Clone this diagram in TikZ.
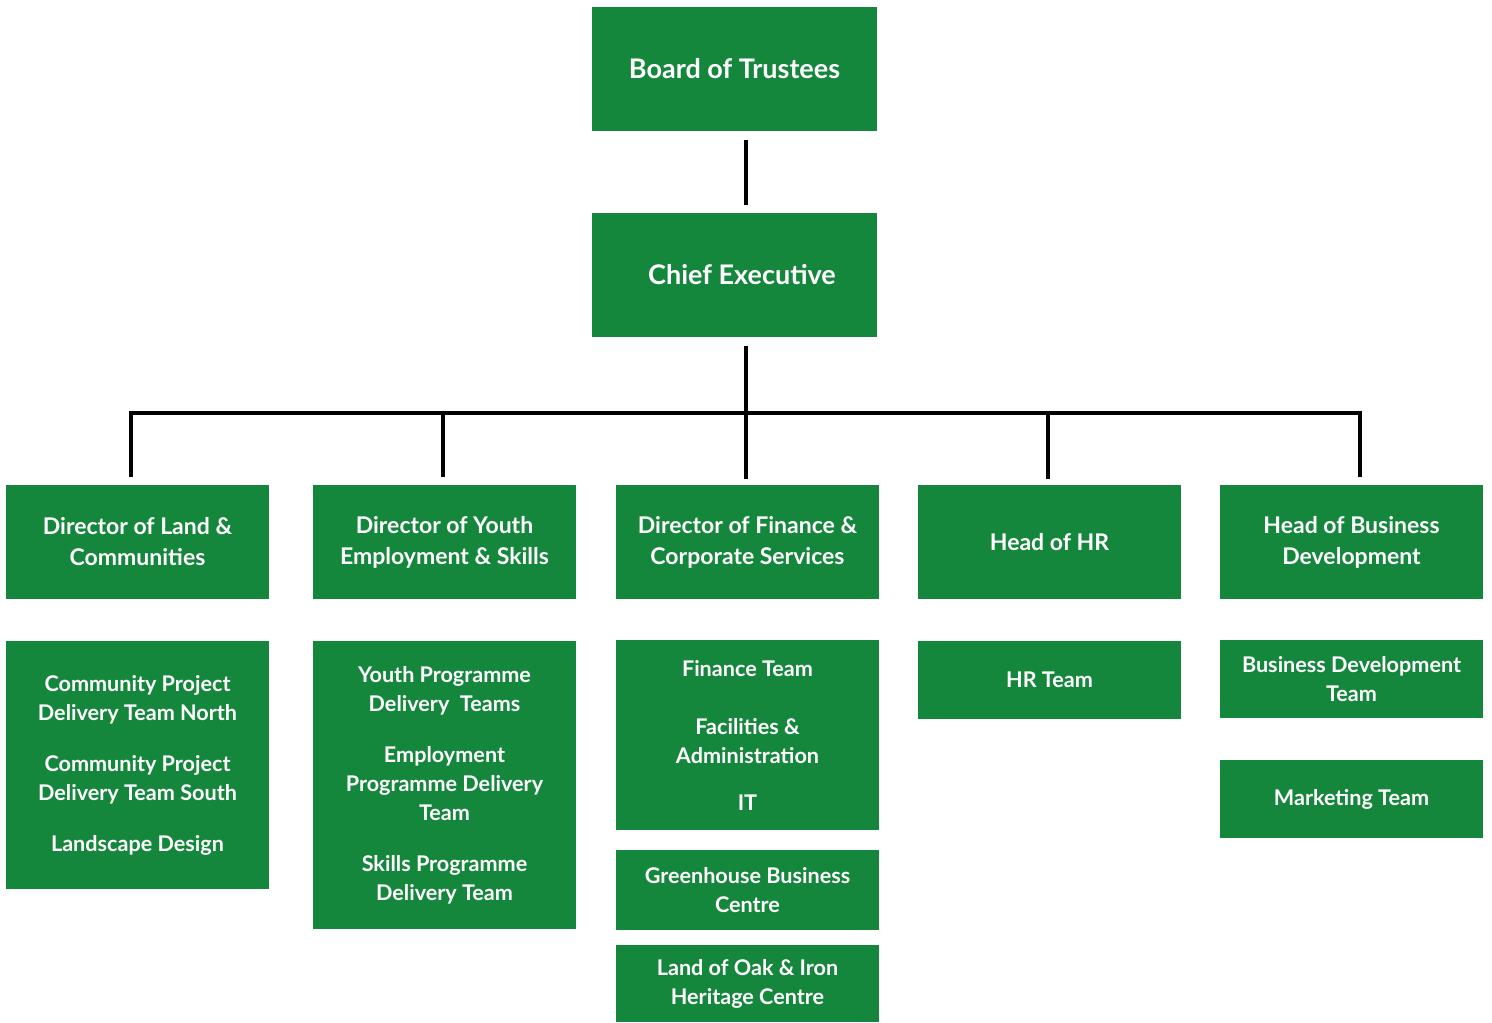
\documentclass[tikz,border=0pt]{standalone}
\usepackage{fontspec}
\setmainfont{Lato}
\definecolor{boxgreen}{RGB}{21,135,60}
\tikzset{
  box/.style={fill=boxgreen, text=white, draw=none, inner sep=0pt, align=center,
    font=\bfseries\fontsize{21.6}{29}\selectfont},
  midbox/.style={box, minimum width=263pt, minimum height=114pt, font=\bfseries\fontsize{23}{31}\selectfont},
  bigbox/.style={box, minimum width=285pt, minimum height=124pt, font=\bfseries\fontsize{27}{32}\selectfont},
  conn/.style={line width=4.6pt, draw=black, line join=miter},
}
\begin{document}
\begin{tikzpicture}[x=1pt,y=-1pt]
\useasboundingbox (0,0) rectangle (1492,1023);
\node[bigbox] (board) at (734.5,69) {Board of Trustees};
\node[bigbox] (chief) at (734.5,275) {\hspace*{15pt}Chief Executive};
\node[midbox] (d1) at (137.5,542) {Director of Land \&\\Communities};
\node[midbox] (d2) at (444.5,542) {Director of Youth\\Employment \& Skills};
\node[midbox] (d3) at (747.5,542) {Director of Finance \&\\Corporate Services};
\node[midbox] (d4) at (1049.5,542) {Head of HR};
\node[midbox] (d5) at (1351.5,542) {Head of Business\\Development};
\node[box, minimum width=263pt, minimum height=248pt] (a) at (137.5,765) {Community Project\\Delivery Team North\\[22pt]Community Project\\Delivery Team South\\[22pt]Landscape Design};
\node[box, minimum width=263pt, minimum height=288pt] (b) at (444.5,785) {Youth Programme\\Delivery\ \ Teams\\[22pt]Employment\\Programme Delivery\\Team\\[22pt]Skills Programme\\Delivery Team};
\node[box, minimum width=263pt, minimum height=190pt] (c) at (747.5,735) {Finance Team\\[29pt]Facilities \&\\Administration\\[18pt]IT};
\node[box, minimum width=263pt, minimum height=80pt] (c2) at (747.5,890) {Greenhouse Business\\Centre};
\node[box, minimum width=263pt, minimum height=77pt] (c3) at (747.5,983.5) {Land of Oak \& Iron\\Heritage Centre};
\node[box, minimum width=263pt, minimum height=78pt] (hr) at (1049.5,680) {HR Team};
\node[box, minimum width=263pt, minimum height=78pt] (bd) at (1351.5,679) {Business Development\\Team};
\node[box, minimum width=263pt, minimum height=78pt] (mk) at (1351.5,799) {Marketing Team};
% junction coordinates
\coordinate (spine) at (746,413);
\coordinate (t1) at (131,413);
\coordinate (t2) at (443,413);
\coordinate (t4) at (1048,413);
\coordinate (t5) at (1360,413);
\draw[conn, shorten <=9pt, shorten >=8pt] (board.south -| spine) -- (chief.north -| spine);
\draw[conn, shorten <=9pt] (chief.south -| spine) -- (spine);
\draw[conn, shorten <=8pt, shorten >=8pt] (t1 |- d1.north) -- (t1) -- (t5) -- (t5 |- d5.north);
\draw[conn, shorten >=8pt] (t2) -- (t2 |- d2.north);
\draw[conn, shorten >=6pt] (spine) -- (spine |- d3.north);
\draw[conn, shorten >=6pt] (t4) -- (t4 |- d4.north);
\end{tikzpicture}
\end{document}
